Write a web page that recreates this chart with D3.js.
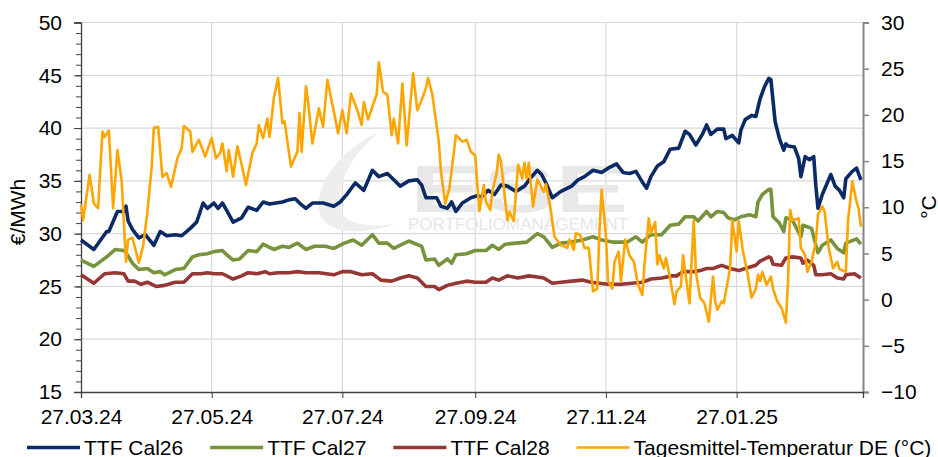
<!DOCTYPE html>
<html>
<head>
<meta charset="utf-8">
<script src="https://cdn.jsdelivr.net/npm/d3@7"></script>
<style>
  body { margin: 0; background: #fff; }
  text { font-family: "Liberation Sans", Arial, sans-serif; }
</style>
</head>
<body>
<div id="chart"></div>
<script>
//////////////////////////////////////////////////////////////////////////////
// Data: [days after 27.03.24, value]

var cal26 = [[0,29.4],[6,28.5],[12,30.2],[13,30.2],[17,32.1],[20,32.1],[21,32.6],[22,31.2],[24,30.4],
  [27,29.6],[30,29.9],[34,28.9],[37,30.2],[40,29.8],[44,29.9],[47,29.8],[51,30.5],[54,31.1],[57,32.9],
  [59,32.4],[62,32.9],[64,32.4],[66,32.9],[68,32.2],[71,31.1],[75,31.5],[78,32.5],[82,32.2],[85,33.0],
  [88,32.8],[91,32.9],[94,33.0],[97,33.2],[100,33.3],[102,32.9],[105,32.4],[108,32.9],[113,32.9],
  [118,32.6],[121,33.0],[124,33.7],[128,34.8],[132,34.1],[136,36.0],[139,35.4],[143,35.7],[146,35.1],
  [149,34.5],[153,35.0],[157,35.1],[159,34.6],[161,33.4],[166,33.4],[168,32.6],[171,32.4],[173,33.0],
  [175,32.1],[178,32.9],[182,33.4],[185,33.6],[187,33.5],[190,34.1],[193,33.7],[196,34.6],[199,34.5],
  [203,34.0],[207,34.5],[210,35.3],[213,36.0],[215,35.6],[217,34.8],[220,33.4],[224,34.0],[229,34.5],
  [232,35.1],[235,35.4],[239,36.0],[243,35.8],[246,36.2],[250,36.6],[253,35.8],[256,35.7],[259,35.9],
  [262,34.9],[264,34.3],[266,35.4],[269,36.4],[272,36.8],[275,38.0],[279,38.1],[282,39.7],[284,39.4],
  [287,38.4],[290,39.4],[292,40.3],[294,39.4],[297,39.9],[300,39.9],[301,39.0],[304,39.3],[307,38.6],
  [308,39.8],[310,40.8],[313,41.2],[315,41.1],[317,42.8],[319,43.9],[321,44.7],[322,44.6],[324,40.6],
  [326,39.0],[328,37.9],[329,38.5],[330,38.3],[333,38.2],[335,37.1],[336,35.4],[338,37.3],[340,37.0],
  [342,37.3],[343,34.5],[344,32.4],[346,33.7],[350,35.6],[352,34.5],[354,34.1],[356,33.4],[357,35.2],
  [360,35.9],[362,36.2],[364,35.1]];

var cal27 = [[0,27.5],[6,26.9],[12,27.8],[16,28.5],[20,28.4],[21,28.2],[24,27.2],[27,26.6],[31,26.7],
  [34,26.3],[37,26.4],[39,26.1],[44,26.6],[48,26.7],[52,27.8],[55,28.0],[59,28.1],[62,28.3],[66,28.4],
  [68,28.0],[71,27.5],[74,27.6],[78,28.4],[82,28.3],[85,29.0],[88,28.7],[90,28.5],[94,28.8],[97,28.7],
  [101,29.1],[105,28.5],[109,28.8],[114,28.8],[118,28.6],[123,29.1],[127,29.4],[131,28.9],[136,29.9],
  [139,29.1],[143,29.1],[146,28.6],[150,29.0],[153,29.3],[159,28.8],[161,27.5],[165,27.6],[167,27.0],
  [171,27.6],[173,27.2],[175,28.0],[180,28.1],[184,28.4],[189,28.4],[192,28.9],[195,28.5],[198,29.0],
  [203,29.1],[208,29.2],[213,30.0],[216,29.7],[220,28.7],[224,29.1],[229,29.2],[234,29.4],[239,29.7],
  [243,29.4],[248,29.2],[252,29.2],[255,29.2],[259,29.7],[262,29.2],[266,29.9],[271,29.9],[275,30.8],
  [279,30.9],[282,31.6],[286,31.6],[288,31.2],[292,32.1],[294,31.6],[297,32.1],[300,32.0],[302,31.5],
  [305,31.3],[308,31.6],[312,31.8],[315,31.6],[316,33.0],[318,33.7],[321,34.2],[322,34.2],[323,31.6],
  [326,31.0],[328,30.2],[329,31.5],[332,31.3],[336,29.7],[337,30.8],[341,30.5],[343,28.9],[344,28.2],
  [346,28.9],[350,29.4],[353,28.6],[356,28.2],[357,29.1],[362,29.5],[364,29.0]];

var cal28 = [[0,26.1],[6,25.3],[11,26.2],[16,26.3],[20,26.2],[22,25.5],[25,25.5],[28,25.2],[31,25.4],
  [35,25.0],[39,25.1],[44,25.4],[48,25.4],[52,26.2],[56,26.2],[59,26.3],[62,26.2],[66,26.2],[71,25.7],
  [75,26.0],[78,26.3],[82,26.2],[86,26.4],[88,26.2],[92,26.3],[97,26.3],[101,26.4],[105,26.3],
  [111,26.3],[118,26.1],[122,26.4],[126,26.4],[131,26.1],[136,26.2],[140,25.6],[145,25.5],[149,25.8],
  [153,26.0],[157,25.8],[161,25.0],[165,25.0],[167,24.7],[171,25.1],[175,25.3],[180,25.5],[184,25.4],
  [189,25.4],[192,25.8],[195,25.6],[199,26.0],[204,25.8],[209,26.0],[213,25.9],[216,25.8],[220,25.3],
  [224,25.4],[229,25.5],[234,25.6],[238,25.4],[242,25.3],[246,25.2],[252,25.2],[257,25.3],[262,25.4],
  [266,25.7],[271,25.8],[276,26.0],[278,26.0],[281,26.4],[286,26.4],[289,26.5],[292,26.7],[295,26.7],
  [299,27.0],[303,26.7],[307,26.5],[310,26.7],[315,27.0],[317,27.4],[321,27.8],[322,27.7],[323,27.1],
  [327,27.0],[329,27.7],[332,27.8],[336,27.7],[337,27.2],[339,27.5],[342,27.0],[343,26.1],[346,26.1],
  [350,26.2],[353,25.8],[356,25.7],[357,26.1],[361,26.2],[364,25.8]];

var tempDE = [[0,10.3],[1,8.6],[4,13.5],[6,10.4],[8,9.9],[10,18.2],[11,17.6],[13,18.3],[15,9.9],
  [17,16.2],[19,12.8],[21,4.1],[22,6.5],[24,6.7],[27,4.0],[29,5.8],[31,9.5],[33,14.4],[34,18.6],
  [36,18.7],[38,13.3],[40,13.7],[42,12.2],[45,15.3],[47,16.4],[48,18.8],[51,18.2],[52,16.0],[55,17.3],
  [58,15.5],[61,17.5],[63,15.3],[65,15.9],[66,16.9],[68,13.9],[69,16.2],[71,13.3],[73,16.6],[75,14.6],
  [77,12.4],[80,15.9],[82,16.9],[83,18.9],[85,17.5],[87,19.6],[88,17.6],[90,21.8],[92,24.0],[94,19.1],
  [95,19.3],[98,14.4],[101,16.0],[102,20.2],[103,16.0],[105,23.1],[106,21.4],[108,16.9],[111,20.7],
  [113,18.7],[115,23.8],[118,20.4],[120,18.0],[122,20.5],[124,18.0],[126,22.3],[129,20.5],[131,18.9],
  [132,21.4],[134,19.5],[136,20.9],[138,22.2],[139,25.7],[141,22.5],[143,22.2],[145,17.8],[146,19.6],
  [148,16.9],[150,23.4],[152,16.7],[155,24.5],[157,20.5],[159,21.6],[161,22.9],[162,24.0],[164,22.2],
  [167,17.1],[168,13.9],[170,10.4],[172,12.1],[175,17.8],[178,17.1],[180,17.3],[182,16.0],[184,15.6],
  [185,12.4],[186,9.6],[188,12.4],[189,10.6],[191,9.7],[192,11.7],[194,13.7],[195,15.7],[196,15.0],
  [199,8.6],[200,9.5],[202,8.5],[204,14.6],[206,13.1],[207,14.8],[208,13.1],[209,14.8],[211,10.1],
  [213,13.0],[216,11.7],[217,12.5],[219,10.1],[221,6.8],[224,5.9],[227,5.6],[228,6.5],[230,5.4],
  [231,7.2],[233,7.0],[235,5.6],[237,5.6],[239,0.9],[241,1.2],[242,7.4],[243,11.9],[245,7.0],[246,2.0],
  [248,1.2],[249,4.1],[251,5.2],[252,2.0],[254,6.5],[256,4.8],[258,4.1],[260,1.6],[262,0.5],[263,3.8],
  [265,8.8],[266,7.2],[268,8.4],[269,3.8],[270,4.8],[272,3.4],[273,4.5],[275,2.3],[277,-0.5],[278,0.9],
  [280,1.4],[281,4.8],[282,3.0],[284,-0.4],[286,8.6],[287,3.0],[289,0.2],[291,-0.4],[293,-2.4],
  [295,2.5],[296,-0.2],[297,-1.1],[299,-0.2],[300,-0.4],[303,3.4],[304,8.6],[306,5.2],[307,8.5],
  [309,5.2],[311,3.0],[313,0.2],[315,1.2],[316,2.7],[317,2.0],[318,3.0],[320,1.6],[322,2.5],[323,1.2],
  [325,-0.2],[327,-0.9],[329,-2.5],[330,2.0],[331,9.7],[332,8.6],[335,8.8],[336,5.6],[338,4.8],
  [339,3.0],[341,4.1],[343,6.3],[344,9.2],[346,10.1],[347,9.6],[349,5.6],[351,3.4],[353,4.1],[354,3.3],
  [357,3.0],[358,8.5],[360,12.8],[362,10.6],[363,9.8],[364,7.9]];

var tickLabels = ["27.03.24", "27.05.24", "27.07.24", "27.09.24", "27.11.24", "27.01.25"];
var seriesNames = ["TTF Cal26", "TTF Cal27", "TTF Cal28", "Tagesmittel-Temperatur DE (°C)"];
var seriesColors = ["#0c2a66", "#77933c", "#953735", "#ffa500"];

//////////////////////////////////////////////////////////////////////////////
// Scales

var svgWidth = 938, svgHeight = 457;
var plotLeft = 81, plotRight = 863, plotTop = 22.5, plotBottom = 392;

var parseTick = d3.timeParse("%d.%m.%y");
var startDate = parseTick("27.03.24");
var endDate = parseTick("27.03.25");

var xScale = d3.scaleTime().domain([startDate, endDate]).range([plotLeft, plotRight]);
var yLeft  = d3.scaleLinear().domain([15, 50]).range([plotBottom, plotTop]);
var yRight = d3.scaleLinear().domain([-10, 30]).range([plotBottom, plotTop]);

function toDate(day) { return d3.timeDay.offset(startDate, day); }

var svg = d3.select("#chart")
    .append("svg")
    .attr("width", svgWidth)
    .attr("height", svgHeight);

//////////////////////////////////////////////////////////////////////////////
// Grid

var tickDates = tickLabels.map(parseTick);

svg.append("g")
    .selectAll("line")
    .data(d3.range(20, 51, 5))
    .enter()
    .append("line")
    .attr("x1", plotLeft).attr("x2", plotRight)
    .attr("y1", function(d) { return yLeft(d); })
    .attr("y2", function(d) { return yLeft(d); })
    .attr("stroke", "#d9d9d9")
    .attr("stroke-width", 1.2);

svg.append("g")
    .selectAll("line")
    .data(tickDates.slice(1))
    .enter()
    .append("line")
    .attr("x1", function(d) { return xScale(d); })
    .attr("x2", function(d) { return xScale(d); })
    .attr("y1", plotTop).attr("y2", plotBottom)
    .attr("stroke", "#d9d9d9")
    .attr("stroke-width", 1.2);

// watermark
var wm = svg.append("g");
wm.append("path")
    .attr("d", "M 378 133 C 335 150, 305 200, 325 222 C 340 236, 372 232, 395 224 " +
               "C 365 228, 342 224, 340 205 C 338 180, 352 155, 378 133 Z")
    .attr("fill", "#eeeeee");
wm.append("text")
    .attr("x", 410).attr("y", 212)
    .attr("font-size", 66).attr("font-weight", "bold")
    .attr("textLength", 218).attr("lengthAdjust", "spacingAndGlyphs")
    .attr("fill", "#e8e8e8")
    .text("ESE");
wm.append("text")
    .attr("x", 408).attr("y", 230)
    .attr("font-size", 17)
    .attr("textLength", 220).attr("lengthAdjust", "spacingAndGlyphs")
    .attr("fill", "#e6e6e6")
    .text("PORTFOLIOMANAGEMENT");

//////////////////////////////////////////////////////////////////////////////
// Axes

function styleText(g) {
    g.selectAll("text").attr("font-size", 21).attr("fill", "#000")
        .style("font-family", "'Liberation Sans', Arial, sans-serif");
}

svg.append("g")
    .attr("transform", "translate(" + plotLeft + ",0)")
    .call(d3.axisLeft(yLeft).tickValues(d3.range(15, 51, 1)).tickSize(5).tickFormat(""))
    .call(function(g) { g.select(".domain").remove(); g.selectAll("line").attr("stroke", "#404040"); });

svg.append("g")
    .attr("transform", "translate(" + plotLeft + ",0)")
    .call(d3.axisLeft(yLeft).tickValues(d3.range(15, 51, 5)).tickSize(7).tickPadding(12))
    .call(function(g) {
        g.select(".domain").attr("stroke", "#404040").attr("stroke-width", 1.3);
        g.selectAll("line").attr("stroke", "#404040");
    })
    .call(styleText);

svg.append("g")
    .attr("transform", "translate(" + plotRight + ",0)")
    .call(d3.axisRight(yRight).tickValues(d3.range(-10, 31, 5)).tickSize(6).tickPadding(12))
    .call(function(g) {
        g.select(".domain").attr("stroke", "#868686").attr("stroke-width", 2);
        g.selectAll("line").attr("stroke", "#868686").attr("stroke-width", 1.5);
    })
    .call(styleText);

svg.append("g")
    .attr("transform", "translate(0," + plotBottom + ")")
    .call(d3.axisBottom(xScale).tickValues(tickDates).tickSize(6).tickPadding(11)
        .tickFormat(d3.timeFormat("%d.%m.%y")))
    .call(function(g) {
        g.select(".domain").attr("stroke", "#404040").attr("stroke-width", 1.3);
        g.selectAll("line").attr("stroke", "#404040");
    })
    .call(styleText);

svg.append("text")
    .attr("transform", "translate(18,212) rotate(-90)")
    .attr("text-anchor", "middle")
    .attr("dy", "0.35em")
    .attr("font-size", 21)
    .text("€/MWh");

svg.append("text")
    .attr("transform", "translate(929,207) rotate(-90)")
    .attr("text-anchor", "middle")
    .attr("dy", "0.35em")
    .attr("font-size", 21)
    .text("°C");

//////////////////////////////////////////////////////////////////////////////
// Lines

var priceLine = d3.line()
    .x(function(d) { return xScale(toDate(d[0])); })
    .y(function(d) { return yLeft(d[1]); });

var tempLine = d3.line()
    .x(function(d) { return xScale(toDate(d[0])); })
    .y(function(d) { return yRight(d[1]); });

var plot = svg.append("g").attr("fill", "none").attr("stroke-linejoin", "round");

[cal26, cal27, cal28].forEach(function(s, i) {
    plot.append("path")
        .datum(s)
        .attr("d", priceLine)
        .attr("stroke", seriesColors[i])
        .attr("stroke-width", 3.6);
});

plot.append("path")
    .datum(tempDE)
    .attr("d", tempLine)
    .attr("stroke", seriesColors[3])
    .attr("stroke-width", 2.6);

//////////////////////////////////////////////////////////////////////////////
// Legend

var legend = svg.append("g");
var lx = 27;
seriesNames.forEach(function(name, i) {
    legend.append("line")
        .attr("x1", lx).attr("x2", lx + 53)
        .attr("y1", 447.5).attr("y2", 447.5)
        .attr("stroke", seriesColors[i])
        .attr("stroke-width", i < 3 ? 3.6 : 2.6);
    var t = legend.append("text")
        .attr("x", lx + 57).attr("y", 455)
        .attr("font-size", 21)
        .text(name);
    lx += 57 + t.node().getComputedTextLength() + 27;
});
</script>
</body>
</html>
